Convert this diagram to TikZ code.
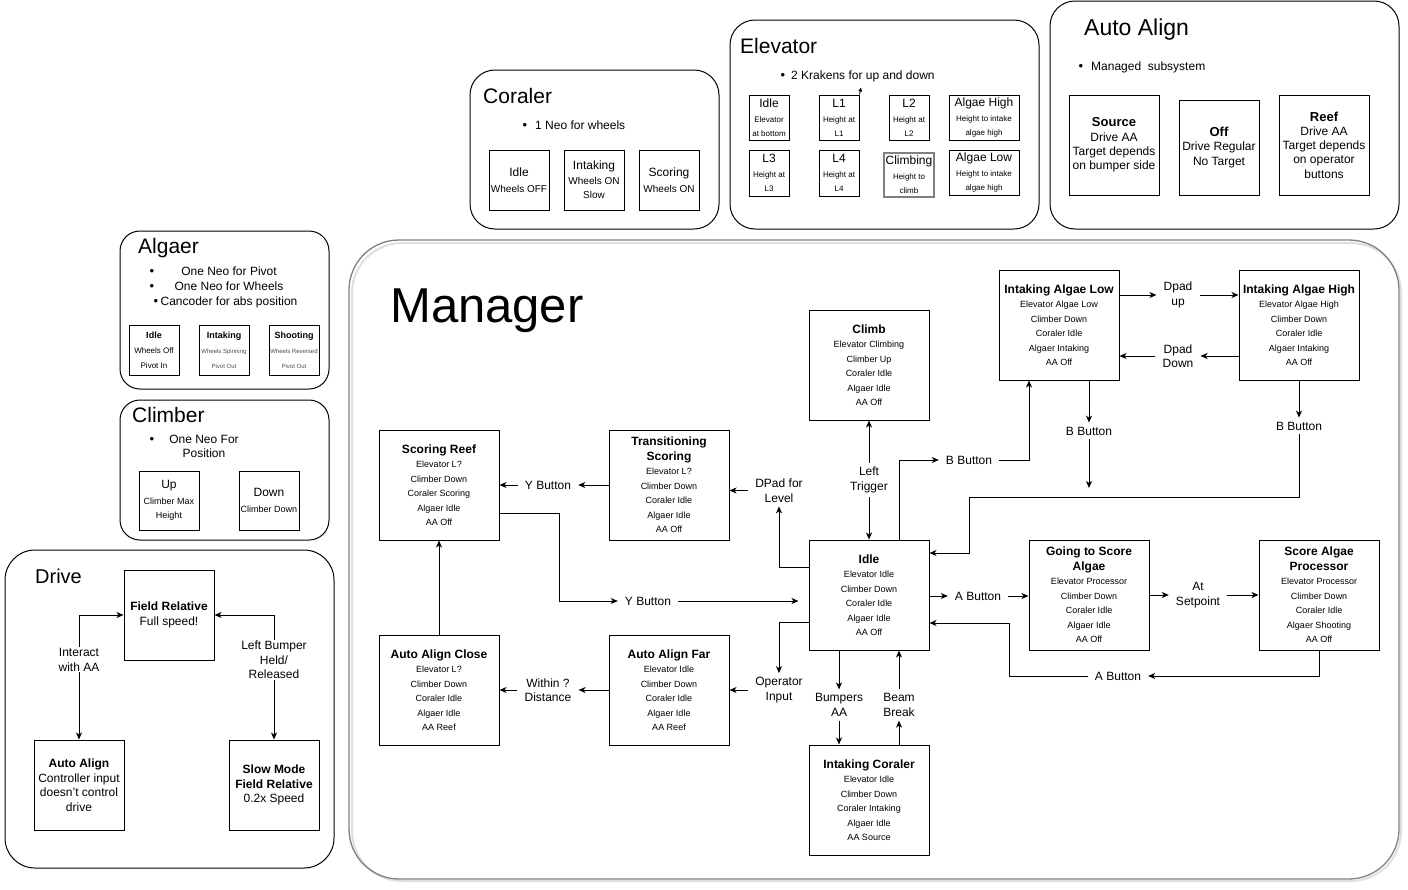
\documentclass[tikz,border=0pt]{standalone}
\usepackage{fontspec}
\setmainfont{Liberation Sans}
\usetikzlibrary{arrows.meta}
\newcommand\fsz[2]{\fontsize{#1}{#2}\selectfont}
\newcommand\mytx[2]{{\fontsize{#1}{14}\selectfont #2}}
\newcommand\mytb[2]{{\fontsize{#1}{14}\selectfont\bfseries #2}}
\begin{document}
\begin{tikzpicture}[x=1pt,y=-1pt,
  cont/.style={draw, line width=1pt, rounded corners=25pt},
  mbox/.style={draw, line width=1pt, minimum width=120pt, minimum height=110pt, align=center, inner sep=0pt, font=\fsz{9}{14.5}},
  sbox/.style={draw, line width=1pt, align=center, inner sep=0pt},
  elb/.style={sbox, minimum width=40pt, minimum height=45pt, font=\fsz{8}{14}},
  lbl/.style={font=\fsz{12}{14.5}, align=center, inner xsep=7pt, inner ysep=4pt},
  dlbl/.style={font=\fsz{12}{14.5}, align=center, fill=white, inner sep=1pt},
  ttlA/.style={anchor=base west, inner sep=0pt},
  bul/.style={font=\fsz{13}{14}, inner sep=0pt, anchor=base},
  arr/.style={line width=1pt, -{Stealth[length=7pt,width=6pt,inset=2pt]}},
  darr/.style={line width=1pt, {Stealth[length=7pt,width=6pt,inset=2pt]}-{Stealth[length=7pt,width=6pt,inset=2pt]}},
]
\useasboundingbox (0,0) rectangle (1408,889);

% ---------- containers ----------
\draw[cont] (470,70) rectangle (719,229);
\draw[cont] (730,20) rectangle (1039,229);
\draw[cont] (1050,1) rectangle (1399,229);
\draw[cont, rounded corners=20pt] (120,231) rectangle (329,389);
\draw[cont, rounded corners=20pt] (120,400) rectangle (329,540);
\draw[cont, rounded corners=30pt] (5,550) rectangle (334,868);
\draw[gray!25, line width=2pt, rounded corners=50pt] (352,243) rectangle (1401,881);
\draw[black!50, line width=1.3pt, rounded corners=50pt] (349,240) rectangle (1399,879);

% ---------- titles ----------
\node[ttlA, font=\fsz{21}{25}] (tcor) at (483,103) {Coraler};
\node[ttlA, font=\fsz{21}{25}] (telev) at (740,53) {Elevator};
\node[ttlA, font=\fsz{23}{27}] (taa) at (1084,35) {Auto Align};
\node[ttlA, font=\fsz{21}{25}] (talg) at (138,253) {Algaer};
\node[ttlA, font=\fsz{21}{25}] (tcli) at (132,422) {Climber};
\node[ttlA, font=\fsz{20}{24}] (tdrv) at (35,583) {Drive};
\node[ttlA, font=\fsz{49}{55}] (tman) at (390,322) {Manager};

% ---------- bullets ----------
\node[bul] (bc) at (525,129.3) {•};
\node[ttlA, font=\fsz{12}{14}] (bct) at (535,129.3) {1 Neo for wheels};
\node[bul] (be) at (783,79.3) {•};
\node[ttlA, font=\fsz{12}{14}] (bet) at (791,79.3) {2 Krakens for up and down};
\node[bul] (ba) at (1081,70.3) {•};
\node[ttlA, font=\fsz{12}{14}] (bat) at (1091,70.3) {Managed\ \ subsystem};
\node[bul] (bg1) at (152,275.3) {•};
\node[bul] (bg2) at (152,290.3) {•};
\node[bul] (bg3) at (156,305.3) {•};
\node[font=\fsz{12}{14}, anchor=base, inner sep=0pt] (bg1t) at (229,275.3) {One Neo for Pivot};
\node[font=\fsz{12}{14}, anchor=base, inner sep=0pt] (bg2t) at (229,290.3) {One Neo for Wheels};
\node[font=\fsz{12}{14}, anchor=base, inner sep=0pt] (bg3t) at (229,305.3) {Cancoder for abs position};
\node[bul] (bl) at (152,443.5) {•};
\node[font=\fsz{12}{13.5}, align=center, inner sep=0pt] (blt) at (204,446.5) {One Neo For\\Position};

% ---------- Coraler boxes ----------
\node[sbox, minimum width=60pt, minimum height=60pt, font=\fsz{10}{16}] (cidle) at (519,180) {\mytx{12}{Idle}\\Wheels OFF};
\node[sbox, minimum width=60pt, minimum height=60pt, font=\fsz{10}{14.5}] (cint) at (594,180) {\mytx{12}{Intaking}\\Wheels ON\\Slow};
\node[sbox, minimum width=60pt, minimum height=60pt, font=\fsz{10}{16}] (cscore) at (669,180) {\mytx{12}{Scoring}\\Wheels ON};

% ---------- Elevator boxes ----------
\node[elb] (eidle) at (769,117.5) {\mytx{12}{Idle}\\[1pt]Elevator\\at bottom};
\node[elb] (el1) at (839,117.5) {\mytx{12}{L1}\\[1pt]Height at\\L1};
\node[elb] (el2) at (909,117.5) {\mytx{12}{L2}\\[1pt]Height at\\L2};
\node[elb, minimum width=70pt] (eah) at (984,117.5) {\mytx{12}{Algae High}\\[1pt]Height to intake\\algae high};
\node[elb, minimum height=46pt] (el3) at (769,173) {\mytx{12}{L3}\\[1pt]Height at\\L3};
\node[elb, minimum height=46pt] (el4) at (839,173) {\mytx{12}{L4}\\[1pt]Height at\\L4};
\node[elb, minimum width=50pt, minimum height=44pt, draw=gray, line width=1.6pt] (eclimb) at (909,175) {\mytx{12}{Climbing}\\[1pt]Height to\\climb};
\node[elb, minimum width=70pt] (eal) at (984,172.5) {\mytx{12}{Algae Low}\\[1pt]Height to intake\\algae high};
\draw[line width=0.8pt, -{Triangle[length=4pt,width=3.5pt]}] (el1.north east) -- ++(1.5,-7);

% ---------- Auto Align boxes ----------
\node[sbox, minimum width=90pt, minimum height=100pt, font=\fsz{12}{14.3}] (aasrc) at (1114,145) {\mytb{13}{Source}\\Drive AA\\Target depends\\on bumper side};
\node[sbox, minimum width=80pt, minimum height=95pt, font=\fsz{12}{14.3}] (aaoff) at (1219,147.5) {\mytb{13}{Off}\\Drive Regular\\No Target};
\node[sbox, minimum width=90pt, minimum height=100pt, font=\fsz{12}{14.3}] (aareef) at (1324,145) {\mytb{13}{Reef}\\Drive AA\\Target depends\\on operator\\buttons};

% ---------- Algaer boxes ----------
\node[sbox, minimum width=50pt, minimum height=50pt, font=\fsz{8}{15}] (gidle) at (154,350) {\mytb{9}{Idle}\\Wheels Off\\Pivot In};
\node[sbox, minimum width=50pt, minimum height=50pt, font=\fsz{6}{15}] (gint) at (224,350) {\mytb{9}{Intaking}\\\textcolor{black!70}{Wheels Spinning}\\\textcolor{black!70}{Pivot Out}};
\node[sbox, minimum width=50pt, minimum height=50pt, font=\fsz{6}{15}] (gshoot) at (294,350) {\mytb{9}{Shooting}\\\textcolor{black!70}{Wheels Reversed}\\\textcolor{black!70}{Pivot Out}};

% ---------- Climber boxes ----------
\node[sbox, minimum width=60pt, minimum height=59pt, font=\fsz{9}{14.5}] (cup) at (169,500.5) {\mytx{12}{Up}\\[1pt]Climber Max\\Height};
\node[sbox, minimum width=60pt, minimum height=59pt, font=\fsz{9}{15.5}] (cdown) at (269,500.5) {\mytx{12}{Down}\\Climber Down};

% ---------- Drive ----------
\node[sbox, minimum width=90pt, minimum height=90pt, font=\fsz{12}{14.5}] (fr) at (169,615) {\mytb{12}{Field Relative}\\Full speed!};
\node[sbox, minimum width=90pt, minimum height=90pt, font=\fsz{12}{14.5}] (daa) at (79,785) {\mytb{12}{Auto Align}\\Controller input\\doesn\char"27{}t control\\drive};
\node[sbox, minimum width=90pt, minimum height=90pt, font=\fsz{12}{14.5}] (slow) at (274,785) {\mytb{12}{Slow Mode}\\\mytb{12}{Field Relative}\\0.2x Speed};
\draw[darr] (daa.north) |- (fr.west) node[dlbl, pos=0.32] {Interact\\with AA};
\draw[darr] (fr.east) -| (slow.north) node[dlbl, pos=0.68] {Left Bumper\\Held/\\Released};

% ---------- Manager states ----------
\node[mbox] (sr) at (439,485) {\mytb{12}{Scoring Reef}\\Elevator L?\\Climber Down\\Coraler Scoring\\Algaer Idle\\AA Off};
\node[mbox] (ts) at (669,485) {\mytb{12}{Transitioning}\\\mytb{12}{Scoring}\\Elevator L?\\Climber Down\\Coraler Idle\\Algaer Idle\\AA Off};
\node[mbox] (aclose) at (439,690) {\mytb{12}{Auto Align Close}\\Elevator L?\\Climber Down\\Coraler Idle\\Algaer Idle\\AA Reef};
\node[mbox] (afar) at (669,690) {\mytb{12}{Auto Align Far}\\Elevator Idle\\Climber Down\\Coraler Idle\\Algaer Idle\\AA Reef};
\node[mbox] (climb) at (869,365) {\mytb{12}{Climb}\\Elevator Climbing\\Climber Up\\Coraler Idle\\Algaer Idle\\AA Off};
\node[mbox] (idle) at (869,595) {\mytb{12}{Idle}\\Elevator Idle\\Climber Down\\Coraler Idle\\Algaer Idle\\AA Off};
\node[mbox] (ic) at (869,800) {\mytb{12}{Intaking Coraler}\\Elevator Idle\\Climber Down\\Coraler Intaking\\Algaer Idle\\AA Source};
\node[mbox] (ial) at (1059,325) {\mytb{12}{Intaking Algae Low}\\Elevator Algae Low\\Climber Down\\Coraler Idle\\Algaer Intaking\\AA Off};
\node[mbox] (iah) at (1299,325) {\mytb{12}{Intaking Algae High}\\Elevator Algae High\\Climber Down\\Coraler Idle\\Algaer Intaking\\AA Off};
\node[mbox] (gts) at (1089,595) {\mytb{12}{Going to Score}\\\mytb{12}{Algae}\\Elevator Processor\\Climber Down\\Coraler Idle\\Algaer Idle\\AA Off};
\node[mbox] (sap) at (1319,595) {\mytb{12}{Score Algae}\\\mytb{12}{Processor}\\Elevator Processor\\Climber Down\\Coraler Idle\\Algaer Shooting\\AA Off};

% ---------- Manager labels ----------
\node[lbl] (lY1) at (548,485) {Y Button};
\node[lbl] (lDpad) at (779,490.5) {DPad for\\Level};
\node[lbl] (lY2) at (648,601) {Y Button};
\node[lbl] (lOp) at (779,690) {Operator\\Input};
\node[lbl] (lWithin) at (548,690) {Within ?\\Distance};
\node[lbl] (lLT) at (869,480) {Left\\Trigger};
\node[lbl] (lB1) at (969,460) {B Button};
\node[lbl] (lA1) at (978,596) {A Button};
\node[lbl] (lAt) at (1198,595) {At\\Setpoint};
\node[lbl] (lA2) at (1118,676) {A Button};
\node[lbl] (lDup) at (1178,295) {Dpad\\up};
\node[lbl] (lDdown) at (1178,356) {Dpad\\Down};
\node[lbl] (lB2) at (1089,431) {B Button};
\node[lbl] (lB3) at (1299,426) {B Button};
\node[lbl] (lBump) at (839,705) {Bumpers\\AA};
\node[lbl] (lBeam) at (899,705) {Beam\\Break};
\coordinate (mrg) at (1089,488);

% ---------- Manager connectors ----------
\draw[arr] (ts.west) -- (lY1.east);
\draw[arr] (lY1.west) -- (sr.east);
\draw[arr] (idle.west |- 0,567) -| (lDpad.south);
\draw[arr] (lDpad.west) -- (ts.east |- lDpad.west);
\draw[arr] (sr.east |- 0,513) -- ++(60,0) |- (lY2.west);
\draw[arr, shorten >=10pt] (lY2.east) -- (idle.west |- lY2.east);
\draw[arr] (idle.west |- 0,622) -| (lOp.north);
\draw[arr] (lOp.west) -- (afar.east |- lOp.west);
\draw[arr] (afar.west) -- (lWithin.east);
\draw[arr] (lWithin.west) -- (aclose.east);
\draw[arr] (aclose.north) -- (sr.south);
\draw[arr] (lLT.north) -- (climb.south);
\draw[arr] (lLT.south) -- (idle.north);
\draw[arr] (idle.north -| 899,0) |- (lB1.west);
\draw[arr] (lB1.east) -| (ial.south -| 1029,0);
\draw[arr] (idle.east |- lA1.west) -- (lA1.west);
\draw[arr] (lA1.east) -- (gts.west |- lA1.east);
\draw[arr] (gts.east |- lAt.west) -- (lAt.west);
\draw[arr] (lAt.east) -- (sap.west |- lAt.east);
\draw[arr] (sap.south) |- (lA2.east);
\draw[arr] (lA2.west) -- (1009,676) |- (idle.east |- 0,623);
\draw[arr] (ial.east |- lDup.west) -- (lDup.west);
\draw[arr] (lDup.east) -- (iah.west |- lDup.east);
\draw[arr] (iah.west |- lDdown.east) -- (lDdown.east);
\draw[arr] (lDdown.west) -- (ial.east |- lDdown.west);
\draw[arr] (ial.south -| lB2.north) -- (lB2.north);
\draw[arr] (lB2.south) -- (mrg);
\draw[arr] (iah.south) -- (lB3.north);
\draw[arr] (lB3.south) |- (969,497) |- (idle.east |- 0,553);
\draw[arr] (idle.south -| lBump.north) -- (lBump.north);
\draw[arr] (lBump.south) -- (ic.north -| lBump.south);
\draw[arr] (ic.north -| lBeam.south) -- (lBeam.south);
\draw[arr] (lBeam.north) -- (idle.south -| lBeam.north);
\end{tikzpicture}
\end{document}
